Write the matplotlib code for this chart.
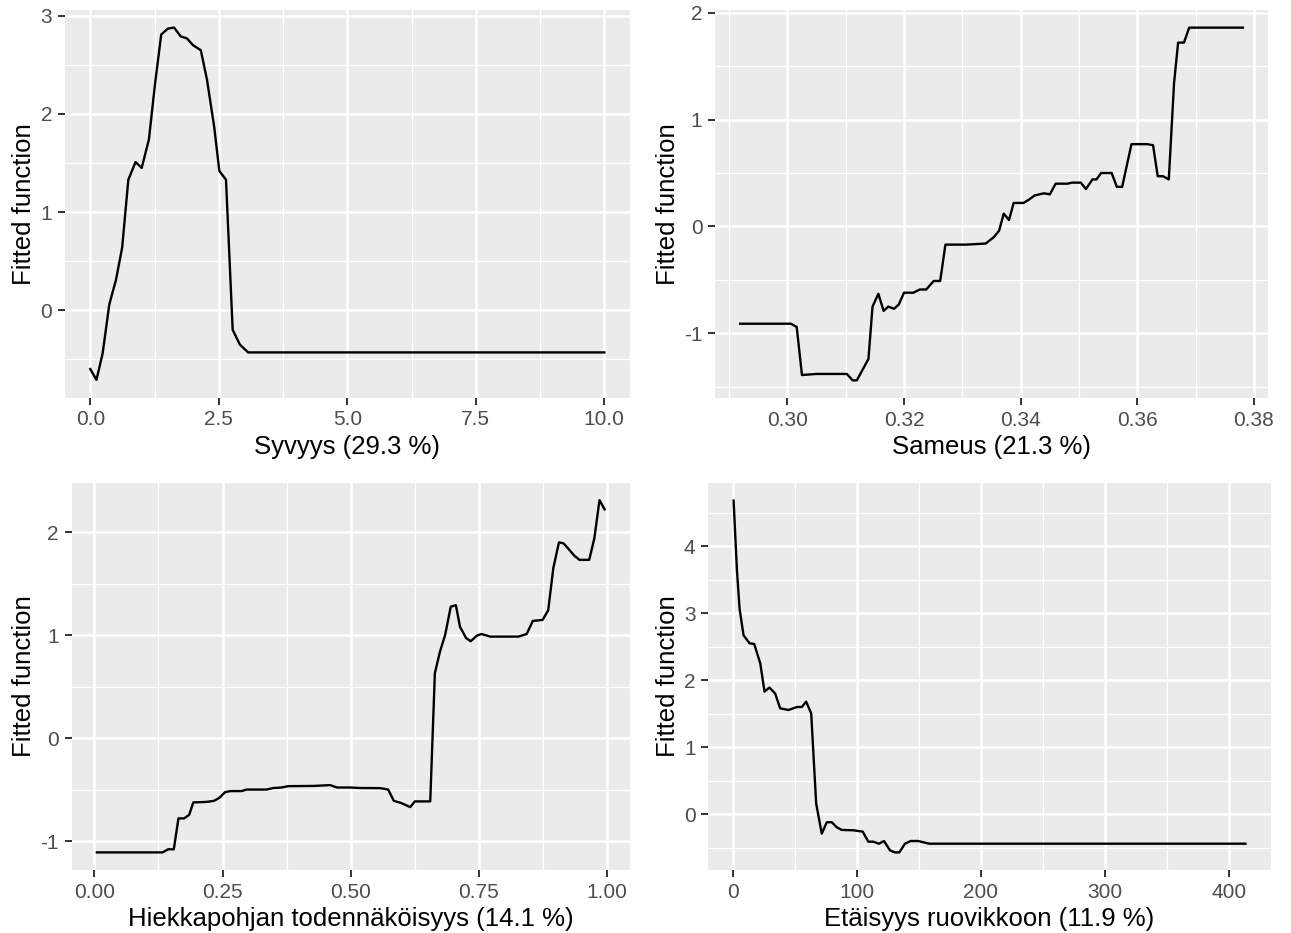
import matplotlib
matplotlib.use("Agg")
import matplotlib.pyplot as plt
from matplotlib.ticker import FixedLocator

plt.rcParams['font.family'] = ['Liberation Sans', 'DejaVu Sans']
plt.rcParams['axes.unicode_minus'] = False

# ---- data ----
syv_x = [0.0, 0.12, 0.24, 0.37, 0.5, 0.62, 0.74, 0.88, 1.0, 1.14, 1.26, 1.38, 1.51, 1.63,
         1.76, 1.88, 2.0, 2.15, 2.27, 2.41, 2.51, 2.64, 2.77, 2.91, 3.07, 10.0]
syv_y = [-0.6, -0.71, -0.44, 0.06, 0.31, 0.64, 1.33, 1.51, 1.45, 1.74, 2.31, 2.81, 2.87, 2.88,
         2.79, 2.77, 2.70, 2.65, 2.35, 1.87, 1.42, 1.33, -0.20, -0.35, -0.43, -0.43]

sam_x = [0.2919, 0.3006, 0.3016, 0.3025, 0.3050, 0.3102, 0.3112, 0.3119, 0.3139, 0.3146,
         0.3156, 0.3165, 0.3173, 0.3183, 0.3191, 0.3200, 0.3216, 0.3227, 0.3238, 0.3251,
         0.3262, 0.3271, 0.3307, 0.3340, 0.3354, 0.3363, 0.3371, 0.3380, 0.3388, 0.3405,
         0.3414, 0.3424, 0.3440, 0.3450, 0.3460, 0.3480, 0.3488, 0.3503, 0.3512, 0.3523,
         0.3530, 0.3538, 0.3556, 0.3565, 0.3574, 0.3590, 0.3617, 0.3627, 0.3635, 0.3644,
         0.3654, 0.3663, 0.3670, 0.3680, 0.3689, 0.3781]
sam_y = [-0.91, -0.91, -0.94, -1.39, -1.38, -1.38, -1.44, -1.44, -1.24, -0.75,
         -0.63, -0.79, -0.75, -0.77, -0.73, -0.62, -0.62, -0.59, -0.59, -0.51,
         -0.51, -0.17, -0.17, -0.16, -0.10, -0.04, 0.12, 0.06, 0.22, 0.22,
         0.25, 0.29, 0.31, 0.30, 0.40, 0.40, 0.41, 0.41, 0.35, 0.44,
         0.44, 0.50, 0.50, 0.37, 0.37, 0.77, 0.77, 0.76, 0.47, 0.47,
         0.44, 1.34, 1.72, 1.72, 1.86, 1.86]

hie_x = [0.005, 0.133, 0.144, 0.155, 0.164, 0.175, 0.185, 0.193, 0.219, 0.233, 0.244, 0.255,
         0.265, 0.287, 0.297, 0.336, 0.349, 0.365, 0.378, 0.427, 0.46, 0.473, 0.499, 0.518,
         0.557, 0.573, 0.584, 0.598, 0.616, 0.625, 0.655, 0.664, 0.674, 0.684, 0.695, 0.705,
         0.713, 0.725, 0.734, 0.746, 0.755, 0.772, 0.827, 0.843, 0.855, 0.874, 0.885, 0.895,
         0.906, 0.915, 0.924, 0.936, 0.946, 0.965, 0.975, 0.985, 0.995]
hie_y = [-1.11, -1.11, -1.08, -1.08, -0.78, -0.78, -0.745, -0.625, -0.62, -0.61, -0.58, -0.525,
         -0.515, -0.515, -0.50, -0.50, -0.485, -0.48, -0.467, -0.465, -0.457, -0.48, -0.48, -0.485,
         -0.486, -0.50, -0.61, -0.63, -0.67, -0.615, -0.615, 0.63, 0.84, 1.0, 1.275, 1.29,
         1.08, 0.97, 0.94, 0.995, 1.01, 0.985, 0.985, 1.01, 1.137, 1.147, 1.24, 1.65,
         1.90, 1.89, 1.84, 1.77, 1.73, 1.73, 1.94, 2.31, 2.22]

eta_x = [0.8, 3.5, 5.6, 8.8, 13.7, 17.4, 22.3, 25.7, 29.7, 34.3, 38.3, 45.0, 51.8, 55.8, 59.2,
         63.3, 67.3, 71.8, 75.9, 79.9, 83.9, 87.9, 97.3, 104.8, 109.3, 113.3, 117.9, 121.9,
         126.8, 130.8, 134.3, 138.8, 143.4, 149.5, 158.4, 413.0]
eta_y = [4.68, 3.64, 3.07, 2.67, 2.55, 2.54, 2.25, 1.83, 1.89, 1.80, 1.58, 1.555, 1.60, 1.60, 1.68,
         1.505, 0.16, -0.29, -0.12, -0.12, -0.195, -0.235, -0.24, -0.26, -0.41, -0.41, -0.44, -0.40,
         -0.54, -0.57, -0.57, -0.44, -0.40, -0.40, -0.44, -0.44]

titles = ["Syvyys (29.3 %)", "Sameus (21.3 %)",
          "Hiekkapohjan todennäköisyys (14.1 %)", "Etäisyys ruovikkoon (11.9 %)"]
ylab = "Fitted function"

syv_xt = [0.0, 2.5, 5.0, 7.5, 10.0]; syv_xl = ["0.0", "2.5", "5.0", "7.5", "10.0"]
syv_yt = [0, 1, 2, 3]
sam_xt = [0.30, 0.32, 0.34, 0.36, 0.38]; sam_xl = ["0.30", "0.32", "0.34", "0.36", "0.38"]
sam_yt = [-1, 0, 1, 2]
hie_xt = [0.0, 0.25, 0.5, 0.75, 1.0]; hie_xl = ["0.00", "0.25", "0.50", "0.75", "1.00"]
hie_yt = [-1, 0, 1, 2]
eta_xt = [0, 100, 200, 300, 400]; eta_xl = ["0", "100", "200", "300", "400"]
eta_yt = [0, 1, 2, 3, 4]

W, H = 1291, 933
fig = plt.figure(figsize=(W / 100, H / 100), dpi=100)

def px(l, r, t, b):
    return [l / W, 1 - b / H, (r - l) / W, (b - t) / H]

panels = [
    (px(64.6, 630, 10, 397.5), syv_x, syv_y, syv_xt, syv_xl, syv_yt, titles[0]),
    (px(715, 1268, 10, 398), sam_x, sam_y, sam_xt, sam_xl, sam_yt, titles[1]),
    (px(71.5, 630, 482.5, 870), hie_x, hie_y, hie_xt, hie_xl, hie_yt, titles[2]),
    (px(708, 1271, 483, 870), eta_x, eta_y, eta_xt, eta_xl, eta_yt, titles[3]),
]

for pos, x, y, xt, xl, yt, title in panels:
    ax = fig.add_axes(pos)
    ax.set_facecolor("#EBEBEB")
    for s in ax.spines.values():
        s.set_visible(False)
    ax.plot(x, y, color="black", lw=1.7, solid_joinstyle="round", zorder=3)
    ax.margins(0.05)
    ax.xaxis.set_major_locator(FixedLocator(xt))
    ax.set_xticklabels(xl)
    ax.yaxis.set_major_locator(FixedLocator(yt))
    ax.set_yticklabels([str(v) for v in yt])
    xmin, xmax = ax.get_xlim()
    ymin, ymax = ax.get_ylim()
    dx = xt[1] - xt[0]
    dy = yt[1] - yt[0]
    xm = [xt[0] - dx / 2] + [v + dx / 2 for v in xt]
    ym = [yt[0] - dy / 2] + [v + dy / 2 for v in yt]
    ax.xaxis.set_minor_locator(FixedLocator([v for v in xm if xmin < v < xmax]))
    ax.yaxis.set_minor_locator(FixedLocator([v for v in ym if ymin < v < ymax]))
    ax.grid(which="major", color="white", lw=1.8)
    ax.grid(which="minor", color="white", lw=0.9)
    ax.set_axisbelow(True)
    ax.tick_params(which="major", length=5, width=1.4, color="#333333",
                   labelsize=15, labelcolor="#4D4D4D", pad=4)
    ax.tick_params(which="minor", length=0)
    ax.set_xlabel(title, fontsize=18.5, color="black", labelpad=4)
    ax.set_ylabel(ylab, fontsize=18.5, color="black", labelpad=3)

fig.savefig("out.png", dpi=100)
